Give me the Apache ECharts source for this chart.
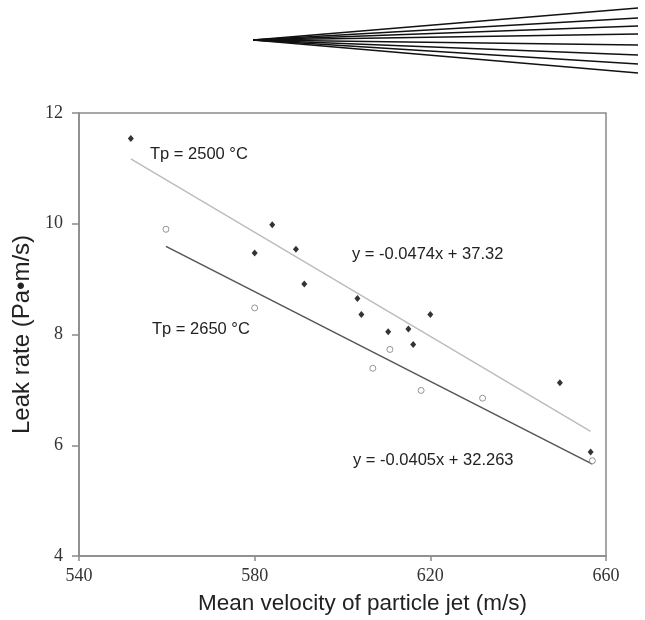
<!DOCTYPE html>
<html>
<head>
<meta charset="utf-8">
<script src="https://cdn.jsdelivr.net/npm/echarts@6/dist/echarts.min.js"></script>
<style>
html,body{margin:0;padding:0;background:#fff;}
#chart{width:645px;height:620px;}
</style>
</head>
<body>
<div id="chart"></div>
<script>
// Tp = 2500 °C (filled diamonds)
var t2500X = [551.8, 580.0, 584.0, 589.4, 591.3, 603.4, 604.3, 610.4, 615.0, 616.1, 620.0, 649.5, 656.5];
var t2500Y = [11.54, 9.47, 9.98, 9.54, 8.91, 8.65, 8.36, 8.05, 8.10, 7.82, 8.36, 7.13, 5.88];
// Tp = 2650 °C (open circles)
var t2650X = [559.8, 580.0, 606.9, 610.8, 617.9, 631.9, 656.9];
var t2650Y = [9.90, 8.48, 7.39, 7.73, 6.99, 6.85, 5.72];
// trend line end points
var trend2500X = [551.8, 656.5];
var trend2500Y = [11.17, 6.25];
var trend2650X = [559.8, 656.9];
var trend2650Y = [9.59, 5.66];
// axis ticks
var xTicks = [540, 580, 620, 660];
var yTicks = [4, 6, 8, 10, 12];
// annotations
var label2500 = 'Tp = 2500 °C';
var label2650 = 'Tp = 2650 °C';
var eq2500 = 'y = -0.0474x + 37.32';
var eq2650 = 'y = -0.0405x + 32.263';

function pairs(xs, ys) { return xs.map(function (x, i) { return [x, ys[i]]; }); }

var chart = echarts.init(document.getElementById('chart'), null, {renderer: 'canvas'});

var fanEnds = [8, 18, 26, 34, 45, 55, 64, 73];
var fan = fanEnds.map(function (ey) {
  return {type: 'line', shape: {x1: 253, y1: 40, x2: 638, y2: ey},
          style: {stroke: '#111', lineWidth: 1.4}};
});

var sans = 'Liberation Sans, Arial, sans-serif';
var serif = 'Liberation Serif, Times New Roman, serif';

chart.setOption({
  backgroundColor: '#fff',
  animation: false,
  grid: {left: 79, right: 39, top: 113, bottom: 63, show: true, borderColor: '#8a8a8a', borderWidth: 1.5, backgroundColor: 'transparent'},
  xAxis: {
    type: 'value', min: xTicks[0], max: xTicks[xTicks.length - 1], interval: 40,
    axisLine: {show: true, lineStyle: {color: '#8a8a8a', width: 1.5}},
    axisTick: {show: true, inside: false, length: 5, lineStyle: {color: '#8a8a8a', width: 1.5}},
    splitLine: {show: false},
    axisLabel: {fontFamily: serif, fontSize: 18, color: '#333', margin: 11},
    name: 'Mean velocity of particle jet (m/s)', nameLocation: 'middle', nameGap: 36,
    nameTextStyle: {fontFamily: sans, fontSize: 22.5, color: '#222', padding: [0, 0, 0, 40]}
  },
  yAxis: {
    type: 'value', min: yTicks[0], max: yTicks[yTicks.length - 1], interval: 2,
    axisLine: {show: true, lineStyle: {color: '#8a8a8a', width: 1.5}},
    axisTick: {show: true, inside: false, length: 7, lineStyle: {color: '#8a8a8a', width: 1.5}},
    splitLine: {show: false},
    axisLabel: {fontFamily: serif, fontSize: 18, color: '#333', margin: 16},
    name: 'Leak rate (Pa•m/s)', nameLocation: 'middle', nameGap: 41,
    nameTextStyle: {fontFamily: sans, fontSize: 24, color: '#222'}
  },
  series: [
    {type: 'line', data: pairs(trend2500X, trend2500Y), symbol: 'none',
     lineStyle: {color: '#bdbdbd', width: 1.5}, z: 2},
    {type: 'line', data: pairs(trend2650X, trend2650Y), symbol: 'none',
     lineStyle: {color: '#555', width: 1.5}, z: 2},
    {type: 'scatter', data: pairs(t2500X, t2500Y), symbol: 'diamond', symbolSize: [6, 7],
     itemStyle: {color: '#000'}, z: 3},
    {type: 'scatter', data: pairs(t2650X, t2650Y), symbol: 'circle', symbolSize: 6,
     itemStyle: {color: '#fff', borderColor: '#7a7a7a', borderWidth: 1}, z: 3}
  ],
  graphic: [
    {type: 'group', children: fan},
    {type: 'text', left: 150, top: 146, style: {text: label2500, font: '16.5px ' + sans, fill: '#222'}},
    {type: 'text', left: 152, top: 321, style: {text: label2650, font: '16.5px ' + sans, fill: '#222'}},
    {type: 'text', left: 352, top: 246, style: {text: eq2500, font: '16.5px ' + sans, fill: '#222'}},
    {type: 'text', left: 353, top: 452, style: {text: eq2650, font: '16.5px ' + sans, fill: '#222'}}
  ]
});
</script>
</body>
</html>
